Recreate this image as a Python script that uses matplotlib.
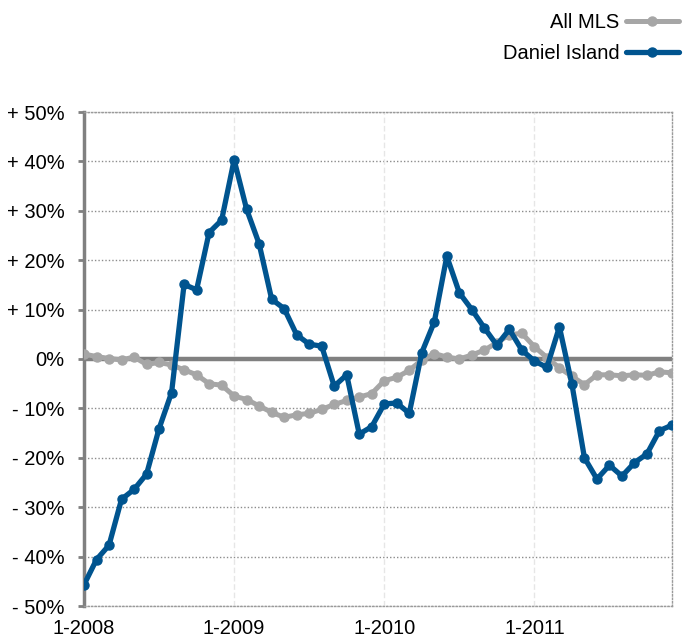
import matplotlib
matplotlib.use("Agg")
import matplotlib.pyplot as plt

plt.rcParams['font.family'] = ['Liberation Sans', 'DejaVu Sans']

# months since Jan 2008
months = list(range(48))

daniel_island = [-45.7, -40.6, -37.7, -28.4, -26.4, -23.3, -14.1, -6.8,
                 15.1, 14.0, 25.6, 28.1, 40.3, 30.3, 23.3, 12.1,
                 10.2, 4.9, 3.0, 2.6, -5.5, -3.2, -15.2, -13.7,
                 -9.1, -8.9, -11.0, 1.3, 7.5, 20.8, 13.4, 10.0,
                 6.3, 2.8, 6.0, 1.8, -0.4, -1.7, 6.5, -5.1,
                 -20.0, -24.3, -21.5, -23.7, -21.0, -19.2, -14.5, -13.4]

all_mls = [1.0, 0.5, 0.1, -0.2, 0.4, -1.1, -0.7, -1.2,
           -2.2, -3.2, -5.0, -5.3, -7.5, -8.2, -9.5, -10.8,
           -11.8, -11.3, -11.0, -10.2, -9.2, -8.4, -7.7, -7.0,
           -4.4, -3.7, -2.3, -0.2, 1.1, 0.4, 0.0, 0.8,
           1.8, 3.3, 4.9, 5.2, 2.5, 0.3, -1.8, -3.5,
           -5.2, -3.2, -3.2, -3.4, -3.2, -3.3, -2.6, -2.8]

yticks = [-50, -40, -30, -20, -10, 0, 10, 20, 30, 40, 50]
ytick_labels = ['- 50%', '- 40%', '- 30%', '- 20%', '- 10%', '0%',
                '+ 10%', '+ 20%', '+ 30%', '+ 40%', '+ 50%']
xticks = [0, 12, 24, 36]
xtick_labels = ['1-2008', '1-2009', '1-2010', '1-2011']

blue = '#00548f'
gray = '#a6a6a6'

fig = plt.figure(figsize=(6.95, 6.36), dpi=100)
ax = fig.add_axes([84 / 695, 30 / 636, 588 / 695, 494 / 636])

# grid
for y in yticks:
    ax.axhline(y, color='#8c8c8c', lw=1.0, ls=(0, (1, 1.5)), zorder=1)
for x in xticks[1:]:
    ax.axvline(x, color='#e6e6e6', lw=1.0, ls=(0, (4, 2)), zorder=1)
ax.axhline(0, color='#808080', lw=3.2, zorder=2)

ax.plot(months, all_mls, color=gray, lw=3.6, marker='o', ms=6.5,
        solid_capstyle='round', label='All MLS', zorder=3)
ax.plot(months, daniel_island, color=blue, lw=3.8, marker='o', ms=6.5,
        solid_capstyle='round', label='Daniel Island', zorder=4)

ax.set_xlim(0, 47)
ax.set_ylim(-50, 50)
ax.set_yticks(yticks)
ax.set_yticklabels(ytick_labels)
ax.set_xticks(xticks)
ax.set_xticklabels(xtick_labels)

ax.spines['left'].set_color('#808080')
ax.spines['left'].set_linewidth(2.5)
for side in ['top', 'right', 'bottom']:
    ax.spines[side].set_color('#9a9a9a')
    ax.spines[side].set_linewidth(1.0)
    ax.spines[side].set_linestyle((0, (1, 1.5)))

ax.tick_params(axis='y', length=4, width=2, color='#808080', pad=10,
               labelsize=14.5, direction='out')
ax.tick_params(axis='x', length=0, pad=9, labelsize=14.5)

fig.legend(loc='upper right', bbox_to_anchor=(0.988, 0.992), frameon=False,
           markerfirst=False, fontsize=14.5, handlelength=2.6,
           handletextpad=0.35, labelspacing=0.6, borderaxespad=0)

fig.savefig('out.png', dpi=100)
